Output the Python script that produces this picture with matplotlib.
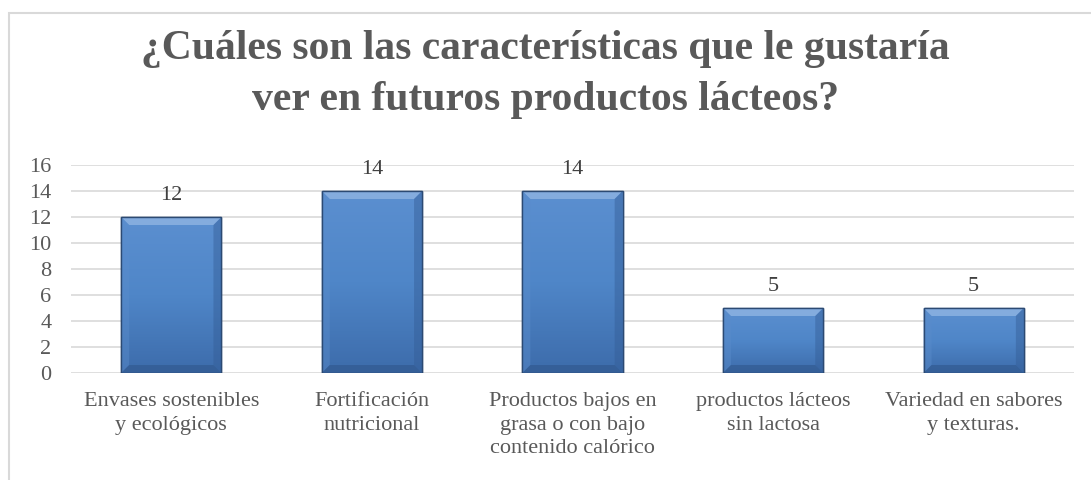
import matplotlib.pyplot as plt
import numpy as np
from matplotlib.colors import LinearSegmentedColormap
from matplotlib.patches import Polygon, Rectangle

categories = [
    "Envases sostenibles\ny ecológicos",
    "Fortificación\nnutricional",
    "Productos bajos en\ngrasa o con bajo\ncontenido calórico",
    "productos lácteos\nsin lactosa",
    "Variedad en sabores\ny texturas.",
]
values = [12, 14, 14, 5, 5]
y_ticks = [0, 2, 4, 6, 8, 10, 12, 14, 16]
title = "¿Cuáles son las características que le gustaría\nver en futuros productos lácteos?"

GREY = "#595959"
plt.rcParams["font.family"] = ["Liberation Serif", "DejaVu Serif"]

fig = plt.figure(figsize=(10.91, 4.8), dpi=100)
W, H = 1091, 480

# chart frame
fig.patches.append(Rectangle((9 / W, -0.05), 1.2, (H - 13) / H + 0.05, transform=fig.transFigure,
                             fill=False, edgecolor="#d9d9d9", linewidth=1.5))

ax = fig.add_axes([71 / W, 107 / H, 1003 / W, 208 / H])
x = np.arange(len(values))
bars = ax.bar(x, values, width=0.5, color="#4f81bd", edgecolor="#2c4a73", linewidth=1.0, zorder=3)

grad = LinearSegmentedColormap.from_list("bar", ["#3d6cab", "#4f86c8", "#5b8fd0"])
px_x = 5 / 1003
px_y = 16 / 208
for b in bars:
    x0, y0 = b.get_x(), b.get_y()
    w, h = b.get_width(), b.get_height()
    img = ax.imshow(np.linspace(0, 1, 100).reshape(-1, 1), cmap=grad, aspect="auto",
                    extent=(x0, x0 + w, y0, y0 + h), origin="lower", zorder=3.1)
    img.set_clip_path(b)
    # bevel edges
    bx, by = 8 * px_x, 8 * px_y
    top = [(x0, y0 + h), (x0 + w, y0 + h), (x0 + w - bx, y0 + h - by), (x0 + bx, y0 + h - by)]
    left = [(x0, y0), (x0, y0 + h), (x0 + bx, y0 + h - by), (x0 + bx, y0 + by)]
    right = [(x0 + w, y0), (x0 + w, y0 + h), (x0 + w - bx, y0 + h - by), (x0 + w - bx, y0 + by)]
    bottom = [(x0, y0), (x0 + w, y0), (x0 + w - bx, y0 + by), (x0 + bx, y0 + by)]
    ax.add_patch(Polygon(top, closed=True, color="#8fb4e3", alpha=0.8, lw=0, zorder=3.2))
    ax.add_patch(Polygon(left, closed=True, color="#5a8ccb", alpha=0.45, lw=0, zorder=3.2))
    ax.add_patch(Polygon(right, closed=True, color="#345d96", alpha=0.45, lw=0, zorder=3.2))
    ax.add_patch(Polygon(bottom, closed=True, color="#2f5589", alpha=0.55, lw=0, zorder=3.2))
    ax.add_patch(Rectangle((x0, y0), w, h, fill=False, edgecolor="#2c4a73", lw=1.0, zorder=3.3))
    ax.text(x0 + w / 2, y0 + h + 0.95, str(int(h)), ha="center", va="bottom",
            fontsize=16, color="#404040", zorder=4)

ax.set_xlim(-0.5, len(values) - 0.5)
ax.set_ylim(0, 16)
ax.set_yticks(y_ticks)
ax.set_xticks(x)
ax.set_xticklabels(categories, fontsize=16, color=GREY, linespacing=1.3)
ax.tick_params(axis="y", labelsize=16, labelcolor=GREY, length=0, pad=14)
ax.tick_params(axis="x", length=0, pad=14)
ax.grid(axis="y", color="#d9d9d9", linewidth=1.2, zorder=0)
for s in ax.spines.values():
    s.set_visible(False)

fig.text(0.5, 0.845, title, ha="center", va="center", fontsize=30, fontweight="bold",
         color=GREY, linespacing=1.45)

fig.savefig("out.png", dpi=100)
